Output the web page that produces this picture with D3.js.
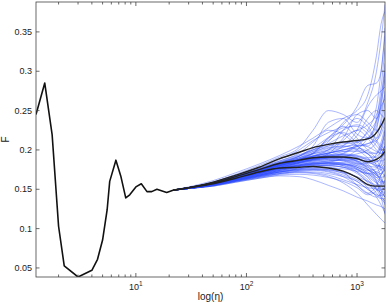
<!DOCTYPE html>
<html>
<head>
<meta charset="utf-8">
<script src="https://cdn.jsdelivr.net/npm/d3@7"></script>
<style>
  html, body { margin: 0; padding: 0; background: #fff; }
  svg { display: block; font-family: "Liberation Sans", Arial, sans-serif; }
</style>
</head>
<body>
<div id="chart"></div>
<script>
// ---- data ----
// single black curve (small eta)
const etaMain = [1.25, 1.5, 1.75, 2, 2.25, 3, 4, 4.5, 5, 5.5, 5.8, 6.6, 7.3, 8.1, 8.8,
                 10, 11.2, 12.6, 13.9, 15.5, 19, 22];
const fMain = [0.245, 0.285, 0.219, 0.103, 0.0525, 0.0385, 0.047, 0.061, 0.0855, 0.124,
               0.160, 0.187, 0.167, 0.139, 0.143, 0.153, 0.157, 0.147, 0.147, 0.150, 0.146, 0.149];

// common eta grid for the fan of realisations
const etaGrid = [22, 30, 50, 80, 130, 200, 300, 400, 550, 750, 1000, 1250, 1500, 1650, 1790];

// black: mean and mean +/- std
const fMean  = [0.149, 0.152, 0.158, 0.166, 0.175, 0.183, 0.187, 0.190, 0.191, 0.191, 0.189, 0.185, 0.188, 0.192, 0.198];
const fUpper = [0.149, 0.152, 0.159, 0.168, 0.178, 0.189, 0.197, 0.203, 0.207, 0.210, 0.212, 0.214, 0.222, 0.231, 0.241];
const fLower = [0.149, 0.152, 0.157, 0.164, 0.172, 0.177, 0.178, 0.179, 0.177, 0.173, 0.165, 0.156, 0.154, 0.154, 0.154];

// blue realisations (values on etaGrid)
const blueRuns = [
  [.149,.153,.161,.171,.182,.193,.205,.215,.228,.240,.250,.270,.320,.360,.376],
  [.149,.152,.159,.169,.180,.191,.203,.225,.250,.245,.235,.260,.300,.340,.385],
  [.149,.152,.158,.167,.177,.188,.200,.212,.222,.232,.255,.282,.285,.300,.355],
  [.149,.152,.158,.166,.175,.184,.192,.205,.235,.240,.220,.215,.240,.280,.330],
  [.149,.152,.157,.165,.172,.180,.186,.192,.200,.215,.245,.250,.240,.255,.300],
  [.149,.151,.156,.163,.170,.176,.180,.182,.184,.190,.200,.215,.235,.260,.290],
  [.149,.152,.159,.168,.177,.186,.194,.200,.205,.208,.210,.215,.230,.250,.270],
  [.149,.152,.158,.166,.175,.183,.190,.195,.200,.225,.240,.230,.215,.225,.250],
  [.149,.152,.158,.165,.173,.181,.187,.192,.196,.200,.205,.208,.212,.220,.235],
  [.149,.152,.157,.164,.171,.178,.184,.188,.190,.192,.195,.200,.210,.225,.240],
  [.149,.152,.158,.166,.174,.182,.188,.195,.215,.230,.215,.200,.195,.205,.220],
  [.149,.152,.158,.166,.174,.182,.188,.192,.194,.195,.193,.190,.192,.200,.215],
  [.149,.152,.158,.165,.173,.180,.186,.189,.190,.190,.188,.186,.188,.193,.205],
  [.149,.152,.158,.166,.175,.184,.192,.198,.203,.205,.200,.190,.180,.180,.190],
  [.149,.152,.157,.164,.171,.177,.181,.184,.186,.187,.186,.183,.185,.190,.200],
  [.149,.152,.158,.167,.176,.186,.196,.210,.225,.220,.205,.195,.185,.190,.195],
  [.149,.151,.156,.163,.170,.176,.180,.182,.183,.182,.178,.174,.176,.185,.200],
  [.149,.152,.158,.165,.173,.180,.185,.188,.189,.187,.183,.178,.172,.170,.175],
  [.149,.152,.157,.164,.172,.179,.184,.187,.190,.195,.205,.215,.210,.200,.195],
  [.149,.152,.158,.166,.174,.182,.188,.191,.192,.190,.185,.175,.165,.160,.160],
  [.149,.151,.156,.162,.168,.173,.176,.177,.177,.176,.173,.170,.168,.170,.178],
  [.149,.152,.157,.164,.171,.178,.183,.186,.187,.186,.182,.175,.170,.175,.185],
  [.149,.151,.156,.163,.170,.176,.181,.184,.185,.183,.178,.170,.162,.158,.158],
  [.149,.152,.158,.166,.174,.181,.186,.190,.193,.198,.200,.195,.180,.165,.150],
  [.149,.151,.155,.161,.167,.172,.174,.175,.174,.171,.166,.160,.155,.152,.150],
  [.149,.152,.157,.164,.171,.177,.182,.186,.190,.192,.190,.182,.170,.158,.145],
  [.149,.151,.156,.162,.168,.174,.178,.180,.180,.178,.172,.162,.150,.145,.140],
  [.149,.151,.155,.160,.166,.170,.172,.172,.170,.166,.160,.150,.143,.142,.145],
  [.149,.152,.157,.164,.171,.177,.181,.183,.183,.180,.172,.158,.145,.138,.132],
  [.149,.151,.155,.161,.167,.172,.175,.176,.175,.172,.165,.152,.140,.130,.120],
  [.149,.151,.154,.159,.164,.168,.169,.168,.165,.160,.152,.143,.148,.158,.170],
  [.149,.151,.155,.161,.167,.172,.176,.178,.178,.172,.155,.145,.155,.168,.180],
  [.149,.151,.155,.160,.165,.169,.171,.170,.166,.158,.145,.130,.118,.112,.107],
  [.149,.151,.154,.159,.164,.167,.166,.162,.155,.148,.140,.135,.130,.128,.125],
  [.149,.152,.157,.163,.170,.176,.180,.182,.183,.182,.178,.170,.160,.150,.140],
  [.149,.152,.158,.166,.175,.184,.192,.200,.212,.225,.232,.225,.212,.205,.200],
  [.149,.152,.157,.164,.171,.178,.184,.189,.195,.205,.225,.255,.270,.275,.280],
  [.149,.152,.158,.166,.174,.182,.190,.198,.208,.218,.225,.232,.245,.268,.300],
  [.149,.151,.156,.162,.168,.174,.178,.180,.180,.178,.175,.170,.172,.180,.195],
  [.149,.152,.157,.165,.172,.180,.186,.190,.192,.193,.192,.188,.182,.178,.175],
  [.149,.152,.158,.167,.176,.185,.193,.200,.210,.235,.245,.235,.225,.235,.260],
  [.149,.152,.157,.165,.173,.181,.188,.196,.215,.222,.210,.205,.225,.265,.310],
  [.149,.151,.156,.163,.170,.177,.183,.187,.195,.212,.225,.215,.200,.195,.205],
  [.149,.152,.158,.166,.175,.183,.190,.196,.202,.206,.218,.240,.250,.245,.240],
  [.149,.152,.158,.166,.174,.181,.186,.189,.192,.196,.208,.225,.255,.300,.345],
  [.149,.152,.157,.164,.172,.180,.188,.196,.205,.210,.205,.195,.190,.200,.225],
  [.149,.152,.158,.165,.172,.179,.184,.187,.188,.186,.182,.184,.195,.210,.230],
  [.149,.151,.156,.163,.170,.177,.183,.188,.192,.194,.192,.186,.178,.175,.180],
  [.149,.152,.158,.166,.174,.182,.189,.195,.200,.204,.206,.204,.198,.196,.198],
  [.149,.151,.156,.162,.169,.175,.180,.183,.186,.188,.188,.185,.180,.178,.182],
  [.149,.152,.157,.164,.171,.178,.184,.188,.190,.190,.186,.178,.168,.165,.168],
  [.149,.151,.155,.161,.168,.174,.179,.182,.184,.184,.180,.172,.165,.168,.175],
  [.149,.152,.158,.165,.173,.180,.186,.190,.193,.194,.190,.180,.170,.162,.155],
  [.149,.151,.156,.162,.168,.173,.177,.179,.180,.178,.170,.160,.152,.150,.152],
  [.149,.151,.155,.161,.167,.172,.176,.179,.181,.182,.180,.175,.168,.162,.158],
  [.149,.152,.157,.163,.169,.175,.180,.183,.184,.182,.176,.165,.150,.140,.135],
  [.149,.151,.155,.160,.166,.171,.174,.175,.173,.168,.160,.150,.142,.138,.138],
  [.149,.151,.156,.162,.168,.174,.178,.181,.182,.181,.176,.168,.158,.148,.140],
  [.149,.151,.154,.160,.165,.170,.173,.174,.172,.166,.155,.145,.140,.145,.155],
  [.149,.152,.157,.164,.172,.180,.186,.191,.196,.200,.202,.198,.188,.175,.165],
  [.149,.151,.155,.161,.167,.172,.175,.176,.175,.170,.162,.155,.150,.145,.130],
  [.149,.152,.158,.166,.174,.183,.192,.202,.216,.228,.230,.220,.205,.200,.205],
  [.149,.152,.157,.165,.173,.181,.187,.192,.196,.198,.198,.196,.196,.205,.225],
  [.149,.151,.156,.163,.170,.176,.181,.185,.188,.190,.190,.188,.186,.186,.188],
  [.149,.152,.158,.166,.174,.182,.188,.192,.196,.200,.204,.208,.215,.240,.275],
  [.149,.151,.156,.162,.169,.175,.179,.181,.182,.180,.175,.166,.158,.155,.162],
  [.149,.152,.157,.165,.173,.181,.188,.193,.198,.203,.210,.222,.238,.255,.265],
  [.149,.151,.155,.161,.166,.170,.172,.171,.168,.162,.156,.152,.150,.148,.145],
  [.149,.152,.158,.165,.172,.179,.185,.189,.191,.190,.186,.176,.160,.140,.118],
  [.149,.151,.156,.163,.171,.178,.184,.188,.190,.188,.184,.180,.178,.188,.210]
];

const yTicks = [0.05, 0.1, 0.15, 0.2, 0.25, 0.3, 0.35];
const xTicks = [10, 100, 1000];
const xDomain = [1.25, 1790];
const yDomain = [0.0385, 0.388];

// ---- layout ----
const W = 388, H = 303;
const m = { top: 2, right: 3, bottom: 26, left: 36 };
const iw = W - m.left - m.right;
const ih = H - m.top - m.bottom;

const svg = d3.select("#chart").append("svg")
  .attr("width", W).attr("height", H);

const x = d3.scaleLog().domain(xDomain).range([0, iw]);
const y = d3.scaleLinear().domain(yDomain).range([ih, 0]);

const g = svg.append("g").attr("transform", `translate(${m.left},${m.top})`);

g.append("clipPath").attr("id", "clip")
  .append("rect").attr("width", iw).attr("height", ih);

const plot = g.append("g").attr("clip-path", "url(#clip)");

const line = d3.line()
  .x(d => x(d[0]))
  .y(d => y(d[1]))
  .curve(d3.curveMonotoneX);

// blue fan
plot.selectAll("path.run")
  .data(blueRuns)
  .join("path")
  .attr("class", "run")
  .attr("d", vals => line(etaGrid.map((e, i) => [e, vals[i]])))
  .attr("fill", "none")
  .attr("stroke", "#2d4bff")
  .attr("stroke-opacity", 0.5)
  .attr("stroke-width", 0.8);

// black lines
plot.append("path")
  .attr("d", d3.line().x(d => x(d[0])).y(d => y(d[1]))(etaMain.map((e, i) => [e, fMain[i]])))
  .attr("fill", "none")
  .attr("stroke", "#111")
  .attr("stroke-width", 1.6)
  .attr("stroke-linejoin", "round");

plot.selectAll("path.stat")
  .data([fMean, fUpper, fLower])
  .join("path")
  .attr("class", "stat")
  .attr("d", vals => line(etaGrid.map((e, i) => [e, vals[i]])))
  .attr("fill", "none")
  .attr("stroke", "#222")
  .attr("stroke-width", 1.4);

// ---- box + ticks (matlab style, ticks inside) ----
const axCol = "#444";
g.append("rect")
  .attr("width", iw).attr("height", ih)
  .attr("fill", "none").attr("stroke", axCol).attr("stroke-width", 0.8);

// minor log ticks
const minor = [];
[1, 10, 100, 1000].forEach(dec => {
  for (let k = 2; k <= 9; k++) {
    const v = dec * k;
    if (v >= xDomain[0] && v <= xDomain[1]) minor.push(v);
  }
});

const tk = g.append("g").attr("stroke", axCol).attr("stroke-width", 0.8);
minor.forEach(v => {
  tk.append("line").attr("x1", x(v)).attr("x2", x(v)).attr("y1", ih).attr("y2", ih - 2.5);
  tk.append("line").attr("x1", x(v)).attr("x2", x(v)).attr("y1", 0).attr("y2", 2.5);
});
xTicks.forEach(v => {
  tk.append("line").attr("x1", x(v)).attr("x2", x(v)).attr("y1", ih).attr("y2", ih - 4);
  tk.append("line").attr("x1", x(v)).attr("x2", x(v)).attr("y1", 0).attr("y2", 4);
});
yTicks.forEach(v => {
  tk.append("line").attr("x1", 0).attr("x2", 3.5).attr("y1", y(v)).attr("y2", y(v));
  tk.append("line").attr("x1", iw).attr("x2", iw - 3.5).attr("y1", y(v)).attr("y2", y(v));
});

// tick labels
g.selectAll("text.ylab")
  .data(yTicks)
  .join("text")
  .attr("class", "ylab")
  .attr("x", -4)
  .attr("y", d => y(d))
  .attr("dy", "0.35em")
  .attr("text-anchor", "end")
  .attr("font-size", 9)
  .attr("fill", "#222")
  .text(d => d3.format("")(d));

const xl = g.selectAll("text.xlab")
  .data(xTicks)
  .join("text")
  .attr("class", "xlab")
  .attr("x", d => x(d))
  .attr("y", ih + 13)
  .attr("text-anchor", "middle")
  .attr("font-size", 9)
  .attr("fill", "#222");
xl.append("tspan").text("10");
xl.append("tspan").attr("dy", -4).attr("font-size", 6.5).text(d => Math.round(Math.log10(d)));

// axis titles
svg.append("text")
  .attr("x", m.left + iw / 2)
  .attr("y", H - 3)
  .attr("text-anchor", "middle")
  .attr("font-size", 10)
  .attr("fill", "#222")
  .text("log(η)");

svg.append("text")
  .attr("transform", `translate(9,${m.top + ih / 2}) rotate(-90)`)
  .attr("text-anchor", "middle")
  .attr("font-size", 10)
  .attr("fill", "#222")
  .text("F");
</script>
</body>
</html>
